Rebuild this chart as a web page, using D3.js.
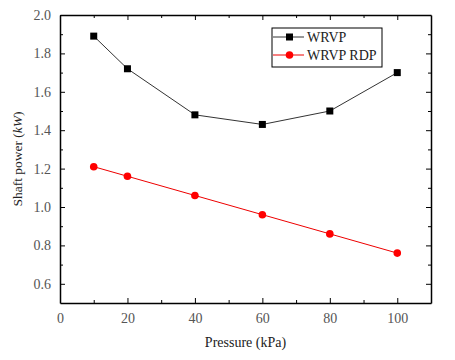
<!DOCTYPE html>
<html><head><meta charset="utf-8">
<script src="https://cdn.jsdelivr.net/npm/d3@7"></script>
<style>body{margin:0;background:#fff}svg{display:block}</style>
</head><body>
<script>
const pressure = [10, 20, 40, 60, 80, 100];
const wrvp = [1.89, 1.72, 1.48, 1.43, 1.50, 1.70];
const wrvpRdp = [1.21, 1.16, 1.06, 0.96, 0.86, 0.76];
const xTicks = [0, 20, 40, 60, 80, 100];
const yTicks = [0.6, 0.8, 1.0, 1.2, 1.4, 1.6, 1.8, 2.0];
const seriesNames = ["WRVP", "WRVP RDP"];

const W = 455, H = 360;
const m = {l: 60, r: 24, t: 15, b: 57};
const svg = d3.select("body").append("svg").attr("width", W).attr("height", H);
const x = d3.scaleLinear().domain([0, 110]).range([m.l, W - m.r]);
const y = d3.scaleLinear().domain([0.5, 2.0]).range([H - m.b, m.t]);
const font = "'Liberation Serif', 'Times New Roman', serif";

const xMinor = d3.range(10, 110, 20);
const yMinor = d3.range(0.7, 2.0, 0.2);

function styleAxis(g, showLabels) {
  g.attr("font-family", font);
  g.select(".domain").attr("stroke", "#000").attr("stroke-width", 1.5);
  g.selectAll(".tick line").attr("stroke", "#000");
  g.selectAll(".tick text").style("font-family", font).attr("font-size", 14).attr("fill", "#555");
  if (!showLabels) g.selectAll(".tick text").remove();
}
// bottom
svg.append("g").attr("transform", `translate(0,${H - m.b})`)
  .call(d3.axisBottom(x).tickValues(xTicks).tickSizeInner(-5).tickSizeOuter(0).tickPadding(10).tickFormat(d3.format("d")))
  .call(g => styleAxis(g, true));
svg.append("g").attr("transform", `translate(0,${H - m.b})`)
  .call(d3.axisBottom(x).tickValues(xMinor).tickSizeInner(-3).tickSizeOuter(0).tickFormat(""))
  .call(g => { g.select(".domain").remove(); g.selectAll("line").attr("stroke", "#000"); });
// top
svg.append("g").attr("transform", `translate(0,${m.t})`)
  .call(d3.axisTop(x).tickValues(xTicks).tickSizeInner(-5).tickSizeOuter(0).tickFormat(""))
  .call(g => styleAxis(g, false));
svg.append("g").attr("transform", `translate(0,${m.t})`)
  .call(d3.axisTop(x).tickValues(xMinor).tickSizeInner(-3).tickSizeOuter(0).tickFormat(""))
  .call(g => { g.select(".domain").remove(); g.selectAll("line").attr("stroke", "#000"); });
// left
svg.append("g").attr("transform", `translate(${m.l},0)`)
  .call(d3.axisLeft(y).tickValues(yTicks).tickSizeInner(-5).tickSizeOuter(0).tickPadding(9).tickFormat(d3.format(".1f")))
  .call(g => styleAxis(g, true));
svg.append("g").attr("transform", `translate(${m.l},0)`)
  .call(d3.axisLeft(y).tickValues(yMinor).tickSizeInner(-3).tickSizeOuter(0).tickFormat(""))
  .call(g => { g.select(".domain").remove(); g.selectAll("line").attr("stroke", "#000"); });
// right
svg.append("g").attr("transform", `translate(${W - m.r},0)`)
  .call(d3.axisRight(y).tickValues(yTicks).tickSizeInner(-5).tickSizeOuter(0).tickFormat(""))
  .call(g => styleAxis(g, false));
svg.append("g").attr("transform", `translate(${W - m.r},0)`)
  .call(d3.axisRight(y).tickValues(yMinor).tickSizeInner(-3).tickSizeOuter(0).tickFormat(""))
  .call(g => { g.select(".domain").remove(); g.selectAll("line").attr("stroke", "#000"); });

const line = d3.line().x(d => x(d[0])).y(d => y(d[1]));
const d1 = pressure.map((p, i) => [p, wrvp[i]]);
const d2 = pressure.map((p, i) => [p, wrvpRdp[i]]);

svg.append("path").attr("d", line(d1)).attr("fill", "none").attr("stroke", "#333").attr("stroke-width", 1);
svg.selectAll(".sq").data(d1).enter().append("rect")
  .attr("x", d => x(d[0]) - 3.5).attr("y", d => y(d[1]) - 3.5).attr("width", 7).attr("height", 7).attr("fill", "#000");
svg.append("path").attr("d", line(d2)).attr("fill", "none").attr("stroke", "#e00").attr("stroke-width", 1);
svg.selectAll(".ci").data(d2).enter().append("circle")
  .attr("cx", d => x(d[0])).attr("cy", d => y(d[1])).attr("r", 3.8).attr("fill", "#f00");

// legend
const lg = svg.append("g");
lg.append("rect").attr("x", 272).attr("y", 28).attr("width", 110).attr("height", 39)
  .attr("fill", "#fff").attr("stroke", "#000").attr("stroke-width", 1);
const ly = [37, 55];
lg.append("line").attr("x1", 273).attr("x2", 304).attr("y1", ly[0]).attr("y2", ly[0]).attr("stroke", "#333");
lg.append("rect").attr("x", 286).attr("y", ly[0] - 3.5).attr("width", 7).attr("height", 7).attr("fill", "#000");
lg.append("line").attr("x1", 273).attr("x2", 304).attr("y1", ly[1]).attr("y2", ly[1]).attr("stroke", "#e00");
lg.append("circle").attr("cx", 289.5).attr("cy", ly[1]).attr("r", 3.8).attr("fill", "#f00");
seriesNames.forEach((n, i) => {
  lg.append("text").attr("x", 307).attr("y", ly[i]).attr("dy", "0.35em")
    .attr("font-family", font).attr("font-size", 14).attr("fill", "#222").text(n);
});

// axis titles
svg.append("text").attr("x", (m.l + W - m.r) / 2).attr("y", 347).attr("text-anchor", "middle")
  .attr("font-family", font).attr("font-size", 14).attr("fill", "#222").text("Pressure (kPa)");
const yt = svg.append("text").attr("transform", `translate(22,${(m.t + H - m.b) / 2}) rotate(-90)`)
  .attr("text-anchor", "middle").attr("font-family", font).attr("font-size", 13.5).attr("fill", "#222");
yt.append("tspan").text("Shaft power (");
yt.append("tspan").attr("font-style", "italic").text("kW");
yt.append("tspan").text(")");
</script>
</body></html>
